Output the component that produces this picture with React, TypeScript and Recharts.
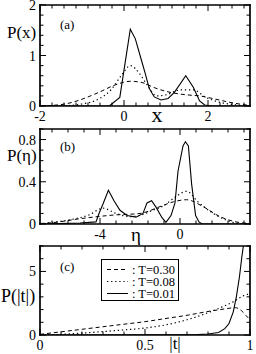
import React from 'react';
import { LineChart, Line, XAxis, YAxis, Legend } from 'recharts';

type Pt = [number, number];

// ---------- Panel (a): P(x) ----------
const aDashed: Pt[] = [[-2, 0], [-1.75, 0.01], [-1.4, 0.04], [-1.05, 0.12], [-0.6, 0.27], [-0.2, 0.42], [0.15, 0.49], [0.45, 0.46], [0.7, 0.37], [1.0, 0.29], [1.5, 0.22], [1.8, 0.2], [2.1, 0.15], [2.6, 0.06], [3, 0.01]];
const aDotted: Pt[] = [[-2, 0], [-1.3, 0.01], [-1.0, 0.04], [-0.6, 0.14], [-0.3, 0.33], [-0.05, 0.62], [0.15, 0.8], [0.38, 0.63], [0.55, 0.42], [0.78, 0.2], [1.0, 0.22], [1.35, 0.32], [1.65, 0.32], [1.95, 0.17], [2.3, 0.07], [2.7, 0.02], [3, 0]];
const aSolid: Pt[] = [[-2, 0], [-0.35, 0], [-0.1, 0.17], [0.15, 1.52], [0.27, 1.33], [0.4, 0.95], [0.5, 0.66], [0.6, 0.35], [0.72, 0.18], [0.88, 0.12], [1.05, 0.15], [1.2, 0.27], [1.47, 0.6], [1.65, 0.37], [1.8, 0.1], [1.92, 0.02], [2.1, 0], [3, 0]];
const aXLabels = [-2, 0, 2];
const aYLabels = [0, 1, 2];

// ---------- Panel (b): P(eta) ----------
const bDashed: Pt[] = [[-7, 0.005], [-6.5, 0.01], [-5, 0.05], [-3.3, 0.085], [-2, 0.1], [-1, 0.165], [-0.33, 0.21], [0.33, 0.23], [1.15, 0.165], [2, 0.07], [2.8, 0.02], [3.5, 0.005]];
const bDotted: Pt[] = [[-7, 0], [-6.2, 0.02], [-5.5, 0.04], [-4.5, 0.09], [-3.85, 0.15], [-3.2, 0.1], [-2.5, 0.07], [-1.85, 0.09], [-1.5, 0.12], [-0.85, 0.17], [-0.2, 0.26], [0.33, 0.31], [0.9, 0.21], [1.5, 0.12], [2.15, 0.05], [2.8, 0.01], [3.5, 0]];
const bSolid: Pt[] = [[-7, 0], [-5, 0.01], [-4.2, 0.02], [-4.05, 0.1], [-3.85, 0.19], [-3.58, 0.32], [-3.3, 0.22], [-3.0, 0.13], [-2.65, 0.08], [-2.2, 0.065], [-1.85, 0.1], [-1.65, 0.2], [-1.42, 0.22], [-1.2, 0.16], [-0.9, 0.06], [-0.7, 0.015], [-0.45, 0.08], [-0.25, 0.2], [-0.1, 0.5], [0.15, 0.74], [0.27, 0.78], [0.42, 0.74], [0.58, 0.38], [0.78, 0.08], [0.95, 0.02], [1.1, 0], [3.5, 0]];
const bXLabels = [-4, 0];
const bYLabels = [0, 0.4, 0.8];

// ---------- Panel (c): P(|t|) ----------
const cDashed: Pt[] = [[0, 0.05], [0.1, 0.25], [0.2, 0.45], [0.3, 0.65], [0.4, 0.85], [0.5, 1.05], [0.6, 1.3], [0.7, 1.55], [0.8, 1.85], [0.88, 2.05], [0.93, 2.15], [0.96, 1.9], [0.98, 1.55], [1.0, 1.2]];
const cDotted: Pt[] = [[0, 0], [0.1, 0.05], [0.2, 0.15], [0.3, 0.27], [0.4, 0.4], [0.5, 0.55], [0.6, 0.8], [0.7, 1.2], [0.8, 1.75], [0.88, 2.3], [0.93, 2.7], [0.97, 3.1], [0.99, 3.2], [1.0, 3.05]];
const cSolid: Pt[] = [[0, 0], [0.6, 0.01], [0.75, 0.04], [0.8, 0.08], [0.85, 0.2], [0.88, 0.5], [0.9, 0.9], [0.92, 1.8], [0.935, 3.0], [0.95, 4.6], [0.96, 6.0], [0.97, 7.2], [0.98, 9]];
const cXLabels = [0, 0.5, 1];
const cYLabels = [0, 5];

const seriesNames = ['T=0.30', 'T=0.08', 'T=0.01'];
const DASH = '4 3';
const DOT = '1.3 2.8';

const FONT = "'Liberation Serif', 'Times New Roman', 'DejaVu Serif', serif";
const AX = { stroke: '#000', strokeWidth: 1.7, strokeLinecap: 'square' as const };

const range = (a: number, b: number, step: number) => {
  const out: number[] = [];
  const n = Math.round((b - a) / step);
  for (let i = 0; i <= n; i++) out.push(+(a + i * step).toFixed(6));
  return out;
};

const toData = (pts: Pt[]) => pts.map(([x, y]) => ({ x, y }));

type Side = 'bottom' | 'top' | 'left' | 'right';

const txtStyle: React.CSSProperties = { fontFamily: FONT };

function makeTick(side: Side, labels: number[], showLabels: boolean) {
  return (props: any) => {
    const { x, y, payload } = props;
    const v = payload.value as number;
    const major = labels.some((m) => Math.abs(m - v) < 1e-6);
    const len = major ? 6 : 3.5;
    let x2 = x, y2 = y;
    if (side === 'bottom') y2 = y - len;
    if (side === 'top') y2 = y + len;
    if (side === 'left') x2 = x + len;
    if (side === 'right') x2 = x - len;
    let label: React.ReactNode = null;
    if (showLabels && major) {
      if (side === 'bottom') {
        label = (
          <text x={x} y={y + 15} textAnchor="middle" fontSize={14} style={txtStyle} fill="#000">
            {String(v)}
          </text>
        );
      } else if (side === 'left') {
        label = (
          <text x={x - 4} y={y + 5} textAnchor="end" fontSize={14} style={txtStyle} fill="#000">
            {String(v)}
          </text>
        );
      }
    }
    return (
      <g>
        <line x1={x} y1={y} x2={x2} y2={y2} stroke="#000" strokeWidth={1} />
        {label}
      </g>
    );
  };
}

const LegendBox = (props: any) => {
  const raw = props.payload || [];
  const payload = seriesNames
    .map((n) => raw.find((p: any) => p.value === n))
    .filter(Boolean);
  return (
    <div style={{ width: 78, height: 42, border: '1px solid #000', background: '#fff', boxSizing: 'border-box' }}>
      <svg width={76} height={40} style={{ display: 'block', overflow: 'visible' }}>
        {payload.map((p: any, i: number) => {
          const cy = 9.5 + i * 12;
          const dash = p.payload && p.payload.strokeDasharray;
          return (
            <g key={i}>
              <line x1={5} x2={26} y1={cy} y2={cy} stroke="#000" strokeWidth={1} strokeDasharray={dash} />
              <text x={30} y={cy + 4} fontSize={12.5} style={txtStyle} fill="#000">
                {': ' + p.value}
              </text>
            </g>
          );
        })}
      </svg>
    </div>
  );
};

interface PanelProps {
  top: number;
  height: number;
  margin: { top: number; right: number; bottom: number; left: number };
  xDomain: [number, number];
  yDomain: [number, number];
  xTicks: number[];
  yTicks: number[];
  xLabels: number[];
  yLabels: number[];
  dashed: Pt[];
  dotted: Pt[];
  solid: Pt[];
  legend?: boolean;
}

function Panel(p: PanelProps) {
  return (
    <div style={{ position: 'absolute', left: 0, top: p.top }}>
      <LineChart width={256} height={p.height} margin={p.margin}>
        <XAxis xAxisId="b" type="number" dataKey="x" domain={p.xDomain} ticks={p.xTicks} interval={0}
          height={1} tickSize={0} tickMargin={0} tickLine={false} axisLine={AX} allowDataOverflow
          tick={makeTick('bottom', p.xLabels, true)} />
        <XAxis xAxisId="t" orientation="top" type="number" dataKey="x" domain={p.xDomain} ticks={p.xTicks} interval={0}
          height={1} tickSize={0} tickMargin={0} tickLine={false} axisLine={AX} allowDataOverflow
          tick={makeTick('top', p.xLabels, false)} />
        <YAxis yAxisId="l" type="number" domain={p.yDomain} ticks={p.yTicks} interval={0}
          width={1} tickSize={0} tickMargin={0} tickLine={false} axisLine={AX} allowDataOverflow
          tick={makeTick('left', p.yLabels, true)} />
        <YAxis yAxisId="r" orientation="right" type="number" domain={p.yDomain} ticks={p.yTicks} interval={0}
          width={1} tickSize={0} tickMargin={0} tickLine={false} axisLine={AX} allowDataOverflow
          tick={makeTick('right', p.yLabels, false)} />
        <Line xAxisId="b" yAxisId="l" name={seriesNames[0]} data={toData(p.dashed)} dataKey="y" type="monotone"
          stroke="#000" strokeWidth={1} strokeDasharray={DASH} dot={false} isAnimationActive={false} />
        <Line xAxisId="b" yAxisId="l" name={seriesNames[1]} data={toData(p.dotted)} dataKey="y" type="monotone"
          stroke="#000" strokeWidth={1.2} strokeDasharray={DOT} dot={false} isAnimationActive={false} />
        <Line xAxisId="b" yAxisId="l" name={seriesNames[2]} data={toData(p.solid)} dataKey="y" type="linear"
          stroke="#000" strokeWidth={1.1} dot={false} isAnimationActive={false} />
        {p.legend && (
          <Legend layout="horizontal" verticalAlign="middle" align="center" content={<LegendBox />}
            wrapperStyle={{ left: 101, top: 17, width: 78, height: 42 }} />
        )}
      </LineChart>
    </div>
  );
}

export default function App() {
  const txt = { style: txtStyle, fill: '#000' };
  return (
    <div style={{ position: 'absolute', left: 0, top: 0, width: 256, height: 354, background: '#fff', overflow: 'hidden' }}>
      <Panel top={0} height={124} margin={{ top: 4, right: 5, bottom: 17, left: 39 }}
        xDomain={[-2, 3]} yDomain={[0, 2]} xTicks={range(-2, 20 / 7, 2 / 7)} yTicks={range(0, 2, 0.2)}
        xLabels={aXLabels} yLabels={aYLabels} dashed={aDashed} dotted={aDotted} solid={aSolid} />
      <Panel top={124} height={118} margin={{ top: 4, right: 5, bottom: 17, left: 39 }}
        xDomain={[-7, 3.5]} yDomain={[0, 0.9]} xTicks={range(-6.4, 3.2, 0.8)} yTicks={range(0, 0.9, 0.1)}
        xLabels={bXLabels} yLabels={bYLabels} dashed={bDashed} dotted={bDotted} solid={bSolid} />
      <Panel top={242} height={112} margin={{ top: 3, right: 5, bottom: 18, left: 39 }}
        xDomain={[0, 1]} yDomain={[0, 7]} xTicks={range(0, 1, 0.1)} yTicks={range(0, 7, 1)}
        xLabels={cXLabels} yLabels={cYLabels} dashed={cDashed} dotted={cDotted} solid={cSolid} legend />
      <svg width={256} height={354} style={{ position: 'absolute', left: 0, top: 0, pointerEvents: 'none' }}>
        <text x={7} y={38} fontSize={17} {...txt}>P(x)</text>
        <text x={60} y={29} fontSize={13} {...txt}>(a)</text>
        <text x={157} y={122} fontSize={22} textAnchor="middle" {...txt}>x</text>
        <text x={7} y={161} fontSize={17} {...txt}>P(η)</text>
        <text x={60} y={151} fontSize={13} {...txt}>(b)</text>
        <text x={136} y={241} fontSize={19} textAnchor="middle" {...txt}>η</text>
        <text x={1} y={302} fontSize={18} {...txt}>P(|t|)</text>
        <text x={60} y={271} fontSize={13} {...txt}>(c)</text>
        <text x={175} y={349} fontSize={17} textAnchor="middle" {...txt}>|t|</text>
      </svg>
    </div>
  );
}
